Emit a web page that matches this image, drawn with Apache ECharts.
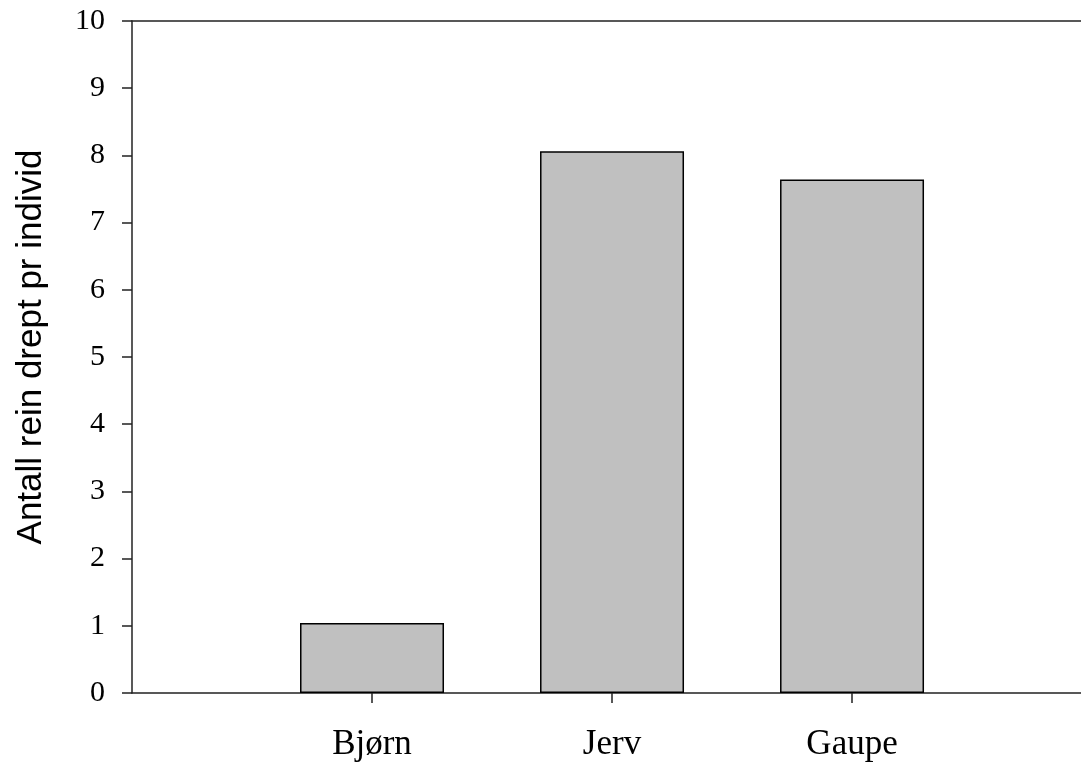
<!DOCTYPE html>
<html>
<head>
<meta charset="utf-8">
<script src="https://cdn.jsdelivr.net/npm/echarts@6.0.0/dist/echarts.min.js"></script>
<style>
html,body{margin:0;padding:0;background:#fff;}
#chart{width:1081px;height:763px;}
</style>
</head>
<body>
<div id="chart"></div>
<script>
const categories = ['Bjørn', 'Jerv', 'Gaupe'];
const values = [1.04, 8.06, 7.64];
const yTicks = [0, 1, 2, 3, 4, 5, 6, 7, 8, 9, 10];
const yAxisTitle = 'Antall rein drept pr individ';

const positions = categories.map((c, i) => i + 1);
const barData = categories.map((c, i) => [i + 1, values[i]]);

const chart = echarts.init(document.getElementById('chart'), null, {renderer: 'canvas'});
const lineStyle = {color: '#222', width: 1.5};
chart.setOption({
  animation: false,
  backgroundColor: '#fff',
  grid: {left: 132, top: 21, right: 0, bottom: 70, containLabel: false},
  xAxis: [{
    type: 'value',
    min: 0,
    max: 3.954,
    interval: 1,
    splitLine: {show: false},
    axisLine: {show: true, lineStyle: lineStyle},
    axisTick: {show: true, length: 10, inside: false, lineStyle: lineStyle, customValues: positions},
    axisLabel: {
      customValues: positions,
      formatter: v => categories[Math.round(v) - 1] || '',
      fontFamily: 'Liberation Serif', fontSize: 35, color: '#000', margin: 34
    }
  }, {
    type: 'value',
    position: 'top',
    min: 0,
    max: 3.954,
    splitLine: {show: false},
    axisLine: {show: true, lineStyle: lineStyle},
    axisTick: {show: false},
    axisLabel: {show: false}
  }],
  yAxis: {
    type: 'value',
    min: yTicks[0],
    max: yTicks[yTicks.length - 1],
    interval: 1,
    name: yAxisTitle,
    nameLocation: 'middle',
    nameGap: 83,
    nameTextStyle: {fontFamily: 'Liberation Sans', fontSize: 35, color: '#000', padding: [0, 0, 0, 20]},
    splitLine: {show: false},
    axisLine: {show: true, lineStyle: lineStyle},
    axisTick: {show: true, length: 10, inside: false, lineStyle: lineStyle},
    axisLabel: {fontFamily: 'Liberation Serif', fontSize: 30, color: '#000', margin: 27}
  },
  series: [{
    type: 'bar',
    xAxisIndex: 0,
    data: barData,
    barWidth: 144,
    itemStyle: {color: '#c0c0c0', borderColor: '#000', borderWidth: 1.5}
  }]
});
</script>
</body>
</html>
